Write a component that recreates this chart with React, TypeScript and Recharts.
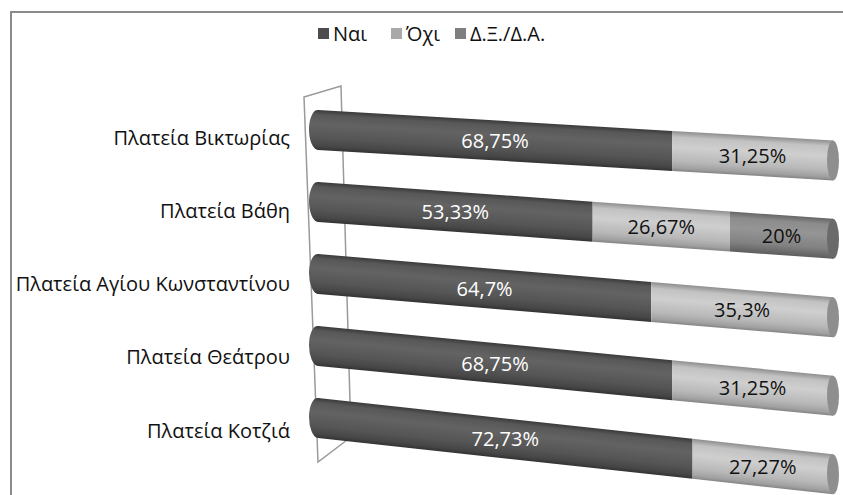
import React from "react";
import { BarChart, Bar, XAxis, YAxis, LabelList } from "recharts";

const categories = [
  "Πλατεία Βικτωρίας",
  "Πλατεία Βάθη",
  "Πλατεία Αγίου Κωνσταντίνου",
  "Πλατεία Θεάτρου",
  "Πλατεία Κοτζιά",
];
const yesValues = [68.75, 53.33, 64.7, 68.75, 72.73];
const noValues = [31.25, 26.67, 35.3, 31.25, 27.27];
const dkValues = [0, 20, 0, 0, 0];
const seriesNames = ["Ναι", "Όχι", "Δ.Ξ./Δ.Α."];
const legendColors = ["#4d4d4d", "#a9a9a9", "#7f7f7f"];
const legendLefts = [318, 391, 455];

const data = categories.map((name, i) => ({
  name,
  yes: yesValues[i],
  no: noValues[i],
  dk: dkValues[i],
}));

const W = 843;
const H = 495;
const X0 = 318; // plot left
const TOP = 94;
const BOTTOM_MARGIN = 41;
const FONT = "'Open Sans', 'Noto Sans', sans-serif";

const slopeFor = (cy: number) => 0.059 + (cy - 130) * 0.000174;

const fmt = (v: number) => String(v).replace(".", ",") + "%";

function Seg(props: any) {
  const { x, y, width, height, payload, kind } = props;
  if (!width || width <= 0) return null;
  const cy = y + height / 2;
  const s = slopeFor(cy);
  const fill = kind === "yes" ? "url(#gYes)" : kind === "no" ? "url(#gNo)" : "url(#gDk)";
  const capFill = kind === "yes" ? "#474747" : kind === "no" ? "#8e8e8e" : "#6a6a6a";
  const isFirst = kind === "yes";
  const isLast = kind === "dk" || (kind === "no" && !(payload && payload.dk > 0));
  return (
    <g transform={`matrix(1, ${s}, 0, 1, 0, ${-s * X0})`}>
      {isFirst && <ellipse cx={x} cy={cy} rx={9} ry={height / 2} fill={fill} />}
      <rect x={x} y={y} width={width} height={height} fill={fill} />
      {isLast && <ellipse cx={x + width} cy={cy} rx={6} ry={height / 2} fill={capFill} />}
    </g>
  );
}

function makeLabel(color: string) {
  return (props: any) => {
    const { x, y, width, height, value } = props;
    if (!value) return null;
    const cx = x + width / 2;
    const cy0 = y + height / 2;
    const s = slopeFor(cy0);
    const cy = cy0 + s * (cx - X0);
    return (
      <text
        x={cx}
        y={cy}
        textAnchor="middle"
        dominantBaseline="central"
        fill={color}
        fontSize={20}
        fontFamily={FONT}
      >
        {fmt(value)}
      </text>
    );
  };
}

function CatTick(props: any) {
  const { y, payload } = props;
  const off = 7 + (y - 130) * 0.0175;
  return (
    <text
      x={X0 - 28}
      y={y + off}
      textAnchor="end"
      dominantBaseline="central"
      fill="#111"
      fontSize={20}
      fontFamily={FONT}
    >
      {payload.value}
    </text>
  );
}

export default function App() {
  return (
    <div
      style={{
        position: "absolute",
        left: 0,
        top: 0,
        width: W,
        height: H,
        overflow: "hidden",
        background: "#fff",
      }}
    >
      <div
        style={{
          position: "absolute",
          left: 10,
          top: 11,
          width: W + 20,
          height: H + 20,
          border: "2px solid #8a8a8a",
          boxSizing: "border-box",
        }}
      />
      <svg width={W} height={H} style={{ position: "absolute", left: 0, top: 0 }}>
        <defs>
          <linearGradient id="gYes" x1="0" y1="0" x2="0" y2="1">
            <stop offset="0" stopColor="#3a3a3a" />
            <stop offset="0.12" stopColor="#585858" />
            <stop offset="0.35" stopColor="#636363" />
            <stop offset="0.7" stopColor="#555555" />
            <stop offset="0.9" stopColor="#464646" />
            <stop offset="1" stopColor="#333333" />
          </linearGradient>
          <linearGradient id="gNo" x1="0" y1="0" x2="0" y2="1">
            <stop offset="0" stopColor="#8e8e8e" />
            <stop offset="0.15" stopColor="#c2c2c2" />
            <stop offset="0.4" stopColor="#cfcfcf" />
            <stop offset="0.75" stopColor="#b8b8b8" />
            <stop offset="0.92" stopColor="#a0a0a0" />
            <stop offset="1" stopColor="#858585" />
          </linearGradient>
          <linearGradient id="gDk" x1="0" y1="0" x2="0" y2="1">
            <stop offset="0" stopColor="#666666" />
            <stop offset="0.15" stopColor="#8c8c8c" />
            <stop offset="0.4" stopColor="#959595" />
            <stop offset="0.75" stopColor="#828282" />
            <stop offset="1" stopColor="#5e5e5e" />
          </linearGradient>
        </defs>
        <polygon
          points={`${X0 - 14},${TOP + 3} ${X0 + 23},${TOP - 8} ${X0 + 33},${H - BOTTOM_MARGIN - 17} ${X0},${H - BOTTOM_MARGIN + 8}`}
          fill="none"
          stroke="#9a9a9a"
          strokeWidth={1.5}
        />
      </svg>
      {seriesNames.map((n, i) => (
        <div
          key={n}
          style={{
            position: "absolute",
            left: legendLefts[i],
            top: 20,
            height: 26,
            display: "flex",
            alignItems: "center",
            fontFamily: FONT,
            fontSize: 20,
            color: "#111",
            whiteSpace: "nowrap",
          }}
        >
          <span
            style={{
              display: "inline-block",
              width: 11,
              height: 11,
              background: legendColors[i],
              marginRight: 4,
            }}
          />
          <span>{n}</span>
        </div>
      ))}
      <div style={{ position: "absolute", left: 0, top: 0 }}>
        <BarChart
          width={W}
          height={H}
          data={data}
          layout="vertical"
          margin={{ top: TOP, right: 10, bottom: BOTTOM_MARGIN, left: 0 }}
          barSize={40}
        >
          <XAxis type="number" domain={[0, 100]} hide />
          <YAxis
            type="category"
            dataKey="name"
            width={X0}
            axisLine={false}
            tickLine={false}
            tick={<CatTick />}
            interval={0}
          />
          <Bar dataKey="yes" stackId="a" isAnimationActive={false} shape={(p: any) => <Seg {...p} kind="yes" />}>
            <LabelList dataKey="yes" content={makeLabel("#ffffff")} />
          </Bar>
          <Bar dataKey="no" stackId="a" isAnimationActive={false} shape={(p: any) => <Seg {...p} kind="no" />}>
            <LabelList dataKey="no" content={makeLabel("#111111")} />
          </Bar>
          <Bar dataKey="dk" stackId="a" isAnimationActive={false} shape={(p: any) => <Seg {...p} kind="dk" />}>
            <LabelList dataKey="dk" content={makeLabel("#111111")} />
          </Bar>
        </BarChart>
      </div>
    </div>
  );
}
